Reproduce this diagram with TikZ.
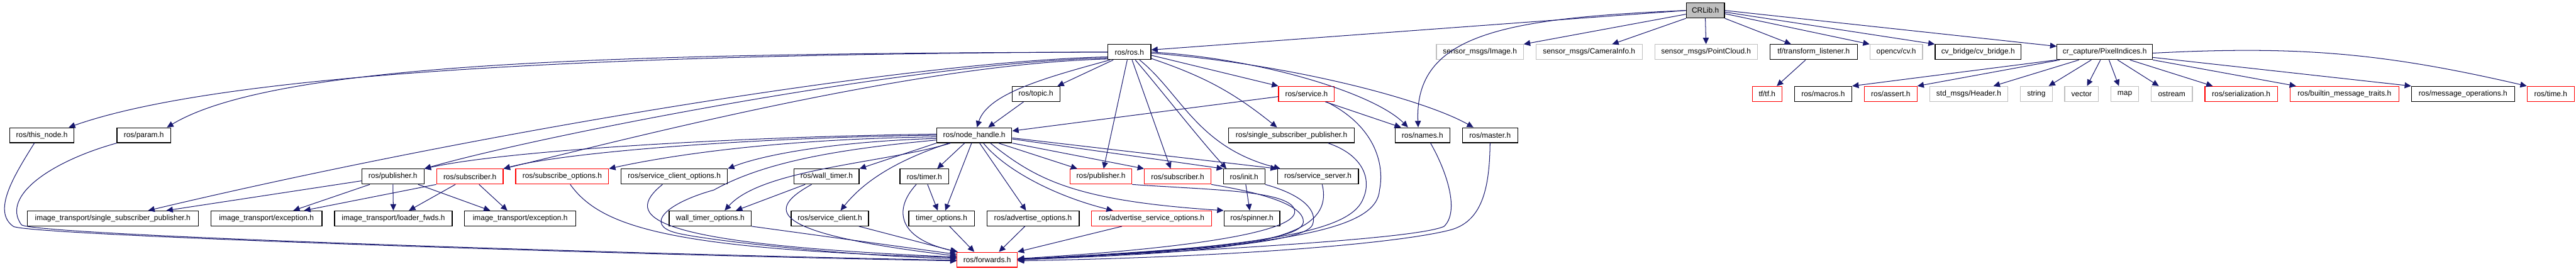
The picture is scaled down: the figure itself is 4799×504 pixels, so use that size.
\documentclass[tikz,border=0pt]{standalone}
\usepackage{fontspec}
\setsansfont{Liberation Sans}
\usetikzlibrary{positioning,arrows.meta}
\definecolor{edgeblue}{HTML}{191970}
\definecolor{extgray}{HTML}{BFBFBF}
\definecolor{nodered}{HTML}{FF0000}

\begin{document}
\begin{tikzpicture}[
    x=1pt, y=1pt,
    node distance=22pt and 22pt,
    box/.style={draw=black, fill=white, line width=1.4pt, minimum height=28pt, inner sep=2pt, font=\sffamily\fontsize{14}{16}\selectfont},
    redbox/.style={box, draw=nodered},
    extbox/.style={box, draw=extgray},
    arr/.style={-{Triangle[length=12pt,width=11pt]}, edgeblue, line width=1.2pt}
]
\useasboundingbox (0,0) rectangle (4799,504);

\node[box, fill=extgray, minimum width=71] (crlib) at (3177,484.5) {CRLib.h};

\node[box, minimum width=80] (ros) at (2104,407) {ros/ros.h};
\node[extbox, minimum width=162] (img) at (2757,407) {sensor\_msgs/Image.h};
\node[extbox, minimum width=198, right=of img] (caminfo) {sensor\_msgs/CameraInfo.h};
\node[extbox, minimum width=191, right=of caminfo] (pcloud) {sensor\_msgs/PointCloud.h};
\node[box, minimum width=163, right=of pcloud] (tflist) {tf/transform\_listener.h};
\node[extbox, minimum width=98, right=of tflist] (cv) {opencv/cv.h};
\node[box, minimum width=160, right=of cv] (cvbridge) {cv\_bridge/cv\_bridge.h};
\node[box, minimum width=178] (pixind) at (3921,407) {cr\_capture/PixelIndices.h};

\node[box, minimum width=89] (topic) at (1930,329) {ros/topic.h};
\node[redbox, minimum width=104] (service) at (2434,329) {ros/service.h};
\node[redbox, minimum width=55] (tf) at (3292,329) {tf/tf.h};
\node[box, minimum width=107, right=of tf] (macros) {ros/macros.h};
\node[redbox, minimum width=98, right=of macros] (assert) {ros/assert.h};
\node[extbox, minimum width=146, right=of assert] (header) {std\_msgs/Header.h};
\node[extbox, minimum width=59, right=of header] (string) {string};
\node[extbox, minimum width=63, right=of string] (vector) {vector};
\node[extbox, minimum width=51, right=of vector] (map) {map};
\node[extbox, minimum width=77, right=of map] (ostream) {ostream};
\node[redbox, minimum width=135, right=of ostream] (serial) {ros/serialization.h};
\node[redbox, minimum width=203, right=of serial] (builtin) {ros/builtin\_message\_traits.h};
\node[box, minimum width=192, right=of builtin] (msgops) {ros/message\_operations.h};
\node[redbox, minimum width=88, right=of msgops] (time) {ros/time.h};

\node[box, minimum width=120] (thisnode) at (78,252) {ros/this\_node.h};
\node[box, minimum width=100] (param) at (268,252) {ros/param.h};
\node[box, minimum width=140] (nh) at (1815,252) {ros/node\_handle.h};
\node[box, minimum width=234] (ssp) at (2406,252) {ros/single\_subscriber\_publisher.h};
\node[box, minimum width=102] (names) at (2650,252) {ros/names.h};
\node[box, minimum width=103, right=of names] (master) {ros/master.h};

\node[box, minimum width=116] (pubit) at (732,175) {ros/publisher.h};
\node[redbox, minimum width=124, right=of pubit] (subit) {ros/subscriber.h};
\node[redbox, minimum width=173, right=of subit] (subopt) {ros/subscribe\_options.h};
\node[box, minimum width=198, right=of subopt] (sco) {ros/service\_client\_options.h};
\node[box, minimum width=121] (walltimer) at (1540,175) {ros/wall\_timer.h};
\node[box, minimum width=91] (timer) at (1722,175) {ros/timer.h};
\node[redbox, minimum width=115] (pub) at (2051,175) {ros/publisher.h};
\node[redbox, minimum width=124, right=of pub] (sub) {ros/subscriber.h};
\node[box, minimum width=77, right=of sub] (init) {ros/init.h};
\node[box, minimum width=151, right=of init] (srvserver) {ros/service\_server.h};

\node[box, minimum width=319] (sspit) at (210,97) {image\_transport/single\_subscriber\_publisher.h};
\node[box, minimum width=207, right=of sspit] (excA) {image\_transport/exception.h};
\node[box, minimum width=219, right=of excA] (loader) {image\_transport/loader\_fwds.h};
\node[box, minimum width=207, right=of loader] (excB) {image\_transport/exception.h};
\node[box, minimum width=153] (wto) at (1323,97) {wall\_timer\_options.h};
\node[box, minimum width=144] (sclient) at (1546,97) {ros/service\_client.h};
\node[box, minimum width=122] (topt) at (1754,97) {timer\_options.h};
\node[box, minimum width=172, right=of topt] (advopt) {ros/advertise\_options.h};
\node[redbox, minimum width=223, right=of advopt] (advsrvopt) {ros/advertise\_service\_options.h};
\node[box, minimum width=104, right=of advsrvopt] (spinner) {ros/spinner.h};

\node[redbox, minimum width=112] (fwd) at (1839,20) {ros/forwards.h};

\draw[arr] (crlib.west) -- ([yshift=4]ros.east);
\draw[arr] (crlib.west) .. controls (2800,470) and (2635,440) .. ([xshift=-8]names.north);
\draw[arr] ([yshift=-7]crlib.west) -- (img.north east);
\draw[arr] (crlib.south west) -- ([xshift=43]caminfo.north);
\draw[arr] (crlib.south) -- (pcloud.north);
\draw[arr] (crlib.south east) -- ([xshift=-42]tflist.north);
\draw[arr] ([yshift=-6]crlib.east) -- (cv.north west);
\draw[arr] ([yshift=-3]crlib.east) -- (cvbridge.north west);
\draw[arr] (crlib.east) -- ([yshift=-4]pixind.north west);

\draw[arr] ([xshift=-15]tflist.south) -- ([xshift=18]tf.north);

\draw[arr] (pixind.south west) -- (macros.north east);
\draw[arr] ([xshift=6]pixind.south west) -- (assert.north east);
\draw[arr] ([xshift=-48]pixind.south) -- ([xshift=46]header.north);
\draw[arr] ([xshift=-25]pixind.south) -- ([xshift=23]string.north);
\draw[arr] ([xshift=-8]pixind.south) -- ([xshift=10]vector.north);
\draw[arr] ([xshift=8]pixind.south) -- ([xshift=-11]map.north);
\draw[arr] ([xshift=24]pixind.south) -- ([xshift=-24]ostream.north);
\draw[arr] ([xshift=47]pixind.south) -- ([xshift=-53]serial.north);
\draw[arr] (pixind.south east) -- ([xshift=12]builtin.north west);
\draw[arr] ([yshift=-10]pixind.east) -- (msgops.north west);
\draw[arr] ([yshift=-2]pixind.east) to[bend left=8] (time.north west);

\draw[arr] (ros.west) .. controls (1300,404) and (450,380) .. ([xshift=50]thisnode.north);
\draw[arr] (ros.west) .. controls (1200,404) and (520,392) .. ([xshift=43]param.north);
\draw[arr] ([yshift=-9]ros.west) .. controls (1700,390) and (900,260) .. ([xshift=66]sspit.north);
\draw[arr] ([yshift=-11]ros.west) .. controls (1700,388) and (1000,250) .. (pubit.north east);
\draw[arr] ([yshift=-13]ros.west) .. controls (1700,385) and (1150,240) .. (subit.north east);
\draw[arr] ([xshift=-36]ros.south) .. controls (1950,360) and (1840,330) .. ([xshift=5]nh.north);
\draw[arr] ([xshift=-30]ros.south) -- ([xshift=40]topic.north);
\draw[arr] ([xshift=-23]topic.south) -- ([xshift=26]nh.north);
\draw[arr] ([xshift=-4]ros.south) -- ([xshift=5]pub.north);
\draw[arr] ([xshift=5]ros.south) -- ([xshift=-13]sub.north);
\draw[arr] ([xshift=11]ros.south) .. controls (2160,340) and (2230,250) .. ([xshift=-33]init.north);
\draw[arr] ([xshift=19]ros.south) .. controls (2200,330) and (2230,230) .. ([xshift=-70]srvserver.north);
\draw[arr] ([yshift=-12]ros.east) to[bend left=10] ([xshift=-27]ssp.north);
\draw[arr] ([yshift=-6]ros.east) -- (service.north west);
\draw[arr] ([yshift=0]ros.east) .. controls (2350,395) and (2560,330) .. ([xshift=-27]names.north);
\draw[arr] ([yshift=-2]ros.east) .. controls (2400,385) and (2650,320) .. ([xshift=-31]master.north);

\draw[arr] ([yshift=-5]service.west) -- ([yshift=8]nh.east);
\draw[arr] ([xshift=35]service.south) -- ([xshift=-40]names.north);
\draw[arr] ([xshift=37]service.south) .. controls (2560,270) and (2580,200) .. (2570,150) .. controls (2565,80) and (2420,45) .. (fwd.east);

\draw[arr] ([yshift=2]nh.west) .. controls (1400,250) and (950,225) .. (pubit.north east);
\draw[arr] (nh.west) .. controls (1400,248) and (1050,220) .. (subit.north east);
\draw[arr] ([yshift=-3]nh.west) .. controls (1450,245) and (1250,215) .. (subopt.north east);
\draw[arr] ([yshift=-6]nh.west) .. controls (1550,240) and (1420,215) .. (sco.north east);
\draw[arr] (nh.south west) -- (walltimer.north east);
\draw[arr] ([xshift=-44]nh.south) .. controls (1650,200) and (1420,190) .. ([xshift=27]wto.north);
\draw[arr] ([yshift=-9]nh.west) .. controls (1550,225) and (1420,200) .. (1330,150) .. controls (1240,125) and (1200,85) .. (1260,70) .. controls (1320,55) and (1600,26) .. ([yshift=2]fwd.west);
\draw[arr] ([xshift=-47]nh.south) .. controls (1700,215) and (1620,180) .. ([xshift=20]sclient.north);
\draw[arr] ([xshift=-18]nh.south) -- ([xshift=24]timer.north);
\draw[arr] ([xshift=-5]nh.south) -- ([xshift=7]topt.north);
\draw[arr] ([xshift=10]nh.south) -- ([xshift=-13]advopt.north);
\draw[arr] ([xshift=17]nh.south) .. controls (1870,190) and (1960,140) .. ([xshift=-72]advsrvopt.north);
\draw[arr] ([xshift=30]nh.south) .. controls (1930,170) and (2000,130) .. (spinner.north west);
\draw[arr] ([xshift=45]nh.south) -- ([xshift=-44]pub.north);
\draw[arr] (nh.south east) -- (sub.north west);
\draw[arr] ([yshift=-7]nh.east) -- (init.north west);
\draw[arr] ([yshift=-5]nh.east) -- (srvserver.north west);

\draw[arr] ([xshift=-40]walltimer.south) -- ([xshift=48]wto.north);
\draw[arr] ([xshift=-28]walltimer.south) .. controls (1430,115) and (1420,70) .. ([yshift=7]fwd.west);
\draw[arr] ([xshift=6]timer.south) -- ([xshift=-7]topt.north);
\draw[arr] ([xshift=-15]timer.south) .. controls (1665,115) and (1670,60) .. ([xshift=2]fwd.north west);
\draw[arr] (wto.south east) -- ([yshift=10]fwd.west);
\draw[arr] ([xshift=54]sclient.south) -- (fwd.north west);
\draw[arr] ([xshift=15]topt.south) -- ([xshift=-24]fwd.north);
\draw[arr] ([xshift=-15]advopt.south) -- ([xshift=22]fwd.north);
\draw[arr] ([xshift=-55]advsrvopt.south) -- (fwd.north east);

\draw[arr] (pub.south east) .. controls (2250,150) and (2410,150) .. (2412,110) .. controls (2414,70) and (2200,40) .. ([yshift=2]fwd.east);
\draw[arr] (sub.south east) .. controls (2380,140) and (2430,115) .. (2428,90) .. controls (2425,55) and (2250,40) .. ([yshift=1]fwd.east);
\draw[arr] ([xshift=3]init.south) -- ([xshift=-4]spinner.north);
\draw[arr] (init.south east) .. controls (2430,140) and (2455,110) .. (2445,85) .. controls (2430,50) and (2200,35) .. (fwd.east);
\draw[arr] ([xshift=8]srvserver.south) .. controls (2490,50) and (2300,35) .. (fwd.east);
\draw[arr] ([xshift=68]ssp.south) .. controls (2540,215) and (2555,170) .. (2540,135) .. controls (2520,80) and (2400,45) .. (fwd.east);
\draw[arr] ([xshift=15]names.south) .. controls (2695,185) and (2720,110) .. (2690,82) .. controls (2640,60) and (2300,40) .. (fwd.east);
\draw[arr] (master.south) .. controls (2775,150) and (2760,90) .. (2700,75) .. controls (2600,50) and (2300,25) .. ([yshift=-2]fwd.east);

\draw[arr] ([yshift=-8]pubit.west) -- ([xshift=100]sspit.north);
\draw[arr] ([xshift=-43]pubit.south) -- ([xshift=50]excA.north);
\draw[arr] (pubit.south) -- (loader.north);
\draw[arr] ([xshift=47]pubit.south) -- ([xshift=-56]excB.north);
\draw[arr] (subit.south west) -- ([xshift=70]excA.north);
\draw[arr] ([xshift=-27]subit.south) -- ([xshift=29]loader.north);
\draw[arr] ([xshift=17]subit.south) -- ([xshift=-24]excB.north);

\draw[arr] ([xshift=-14]thisnode.south) .. controls (25,175) and (-15,110) .. (25,82) .. controls (60,65) and (1200,28) .. ([yshift=-2]fwd.west);
\draw[arr] (param.south west) .. controls (100,205) and (0,140) .. (40,85) .. controls (70,65) and (1200,30) .. ([yshift=-1]fwd.west);
\draw[arr] ([xshift=15]subopt.south) .. controls (1120,80) and (1250,40) .. ([yshift=4]fwd.west);
\draw[arr] ([xshift=-22]sco.south) .. controls (1160,100) and (1200,50) .. ([yshift=5]fwd.west);
\end{tikzpicture}
\end{document}
